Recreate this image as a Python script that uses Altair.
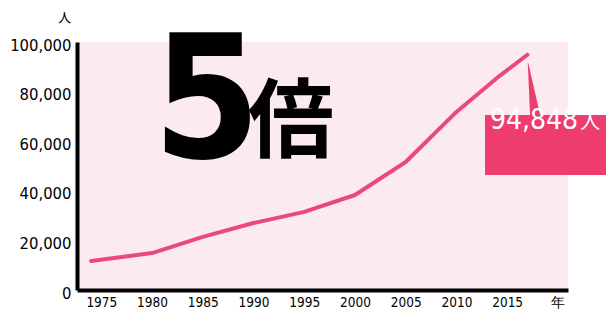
import altair as alt
import pandas as pd

# ---- data ----
years = [1974, 1980, 1985, 1990, 1995, 2000, 2005, 2010, 2014, 2017]
people = [11700, 14900, 21400, 27000, 31500, 38300, 51600, 71800, 85500, 94848]
x_ticks = [1975, 1980, 1985, 1990, 1995, 2000, 2005, 2010, 2015, 2020]
y_ticks = [0, 20000, 40000, 60000, 80000, 100000]
last_label = "94,848"

LINE = "#EA4A7B"
BOX = "#EE3C6E"
BG = "#FCEAF1"
NUM_FONT = "DejaVu Sans Condensed, sans-serif"

df = pd.DataFrame({"year": years, "people": people})

xs = alt.Scale(domain=[1972.6, 2021.0], nice=False, zero=False)
ys = alt.Scale(domain=[0, 100000], nice=False)

line = alt.Chart(df).mark_line(color=LINE, strokeWidth=4, strokeCap="round", strokeJoin="round").encode(
    x=alt.X("year:Q", scale=xs,
            axis=alt.Axis(values=x_ticks, format="d", title=None, grid=False, ticks=False,
                          domainColor="black", domainWidth=4, labelFontSize=13.5,
                          labelFont=NUM_FONT, labelColor="black",
                          labelPadding=5,
                          labelExpr="datum.value == 2020 ? '年' : datum.label")),
    y=alt.Y("people:Q", scale=ys,
            axis=alt.Axis(values=y_ticks, format=",.0f", grid=False, ticks=False,
                          domainColor="black", domainWidth=4, labelFontSize=16.5,
                          labelFont=NUM_FONT, labelColor="black",
                          labelPadding=6, labelOffset=3, labelLimit=200,
                          title="人", titleAngle=0, titleFontSize=13, titleFontWeight="normal",
                          titleFont="Noto Sans CJK JP", titleX=-13, titleY=-25,
                          titleAlign="center", titleBaseline="middle")),
)

# pointer from the end of the line to the label box
ptr = pd.DataFrame({"year": [2017.06, 2017.75], "people": [91500, 70600], "w": [0.5, 10]})
pointer = alt.Chart(ptr).mark_trail(color=BOX).encode(
    x=alt.X("year:Q", scale=xs), y=alt.Y("people:Q", scale=ys),
    size=alt.Size("w:Q", scale=None, legend=None),
)

box_df = pd.DataFrame({"x": [2012.82], "x2": [2025.24], "y": [70560], "y2": [46370]})
box = alt.Chart(box_df).mark_rect(color=BOX).encode(
    x=alt.X("x:Q", scale=xs), x2="x2", y=alt.Y("y:Q", scale=ys), y2="y2"
)

lab_df = pd.DataFrame({"x": [2022.0], "y": [65000], "t": [last_label]})
lab = alt.Chart(lab_df).mark_text(color="white", fontSize=28, font=NUM_FONT, align="right",
                                  baseline="alphabetic").encode(
    x=alt.X("x:Q", scale=xs), y=alt.Y("y:Q", scale=ys), text="t:N"
)
nin_df = pd.DataFrame({"x": [2022.2], "y": [65000], "t": ["人"]})
nin = alt.Chart(nin_df).mark_text(color="white", fontSize=20, font="Noto Sans CJK JP", align="left",
                                  baseline="alphabetic").encode(
    x=alt.X("x:Q", scale=xs), y=alt.Y("y:Q", scale=ys), text="t:N"
)

five_df = pd.DataFrame({"x": [1980.1], "y": [53230], "t": ["5"]})
five = alt.Chart(five_df).mark_text(color="black", fontSize=172, font=NUM_FONT, fontWeight="bold",
                                    align="left", baseline="alphabetic").encode(
    x=alt.X("x:Q", scale=xs), y=alt.Y("y:Q", scale=ys), text="t:N"
)
bai_df = pd.DataFrame({"x": [1993.7], "y": [56050], "t": ["倍"]})
bai = alt.Chart(bai_df).mark_text(color="black", fontSize=86, font="Noto Sans CJK JP", fontWeight="bold",
                                  align="center", baseline="alphabetic").encode(
    x=alt.X("x:Q", scale=xs), y=alt.Y("y:Q", scale=ys), text="t:N"
)

chart = alt.layer(line, five, bai, pointer, box, lab, nin).properties(
    width=491, height=248,
    background="white",
    autosize=alt.AutoSizeParams(type="none"),
    padding={"left": 69, "top": 34, "right": 38, "bottom": 21},
).configure_view(fill=BG, stroke=None)

chart.save("out.html", embed_options={"renderer": "svg", "actions": False})
